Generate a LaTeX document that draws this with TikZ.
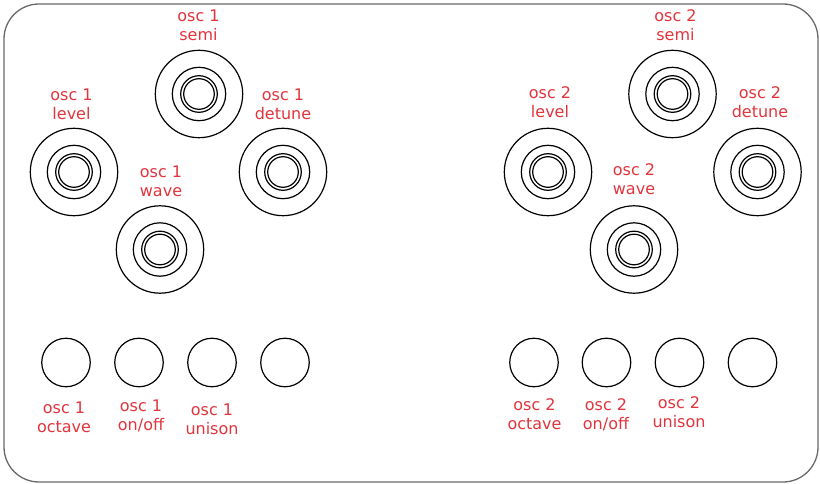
\documentclass[tikz,border=0pt]{standalone}
\usepackage{fontspec}
\setmainfont{DejaVu Sans}
\usetikzlibrary{positioning}
\definecolor{oscred}{RGB}{226,52,60}
\definecolor{panelgrey}{RGB}{105,105,105}
\tikzset{
  panel/.style={draw=panelgrey, line width=1.3pt, rounded corners=35pt},
  knob/.style={circle, draw, line width=1.2pt, inner sep=0pt, minimum size=87.4pt},
  ring/.style={circle, draw, line width=1.2pt, inner sep=0pt, minimum size=#1},
  button/.style={circle, draw, line width=1.2pt, inner sep=0pt, minimum size=48.5pt},
  tag/.style={text=oscred, font=\fontsize{16}{19}\selectfont, align=center, inner sep=0pt}
}

\begin{document}
\begin{tikzpicture}[x=1pt, y=-1pt]
    \useasboundingbox (0,0) rectangle (820,484);
    \draw[panel] (4,4) rectangle (818,482);
    % knobs
    \foreach \name/\x/\y in {levelA/74/172, semiA/199/94, detuneA/283/172, waveA/160/249.5,
                             levelB/548/172, semiB/672.5/94, detuneB/757.5/172, waveB/634/249.5} {
      \node[knob] (\name) at (\x,\y) {};
      \node[ring=53.4pt] at (\name) {};
      \node[ring=36.6pt] at (\name) {};
      \node[ring=30.6pt] at (\name) {};
    }
    % buttons
    \foreach \name/\x in {octaveA/66, onoffA/139, unisonA/212, spareA/285,
                          octaveB/534, onoffB/606.5, unisonB/679.5, spareB/752.5} {
      \node[button] (\name) at (\x,362.5) {};
    }
    % labels
    \node[tag] (semiAtag)   at (198.5,25)  {osc 1\\semi};
    \node[tag] (levelAtag)  at (71.5,104)  {osc 1\\level};
    \node[tag] (detuneAtag) at (283,104)   {osc 1\\detune};
    \node[tag] (waveAtag)   at (161,181)   {osc 1\\wave};
    \node[tag] (semiBtag)   at (675.5,25.5) {osc 2\\semi};
    \node[tag] (levelBtag)  at (550,102.5) {osc 2\\level};
    \node[tag] (detuneBtag) at (760,102.5) {osc 2\\detune};
    \node[tag] (waveBtag)   at (634,179.5) {osc 2\\wave};
    \node[tag] (octaveAtag) at (64,417)    {osc 1\\octave};
    \node[tag] (onoffAtag)  at (141,416)   {osc 1\\on/off};
    \node[tag] (unisonAtag) at (212,419.5) {osc 1\\unison};
    \node[tag] (octaveBtag) at (534.5,414.5) {osc 2\\octave};
    \node[tag] (onoffBtag)  at (606,415)   {osc 2\\on/off};
    \node[tag] (unisonBtag) at (679,412)   {osc 2\\unison};
\end{tikzpicture}
\end{document}
